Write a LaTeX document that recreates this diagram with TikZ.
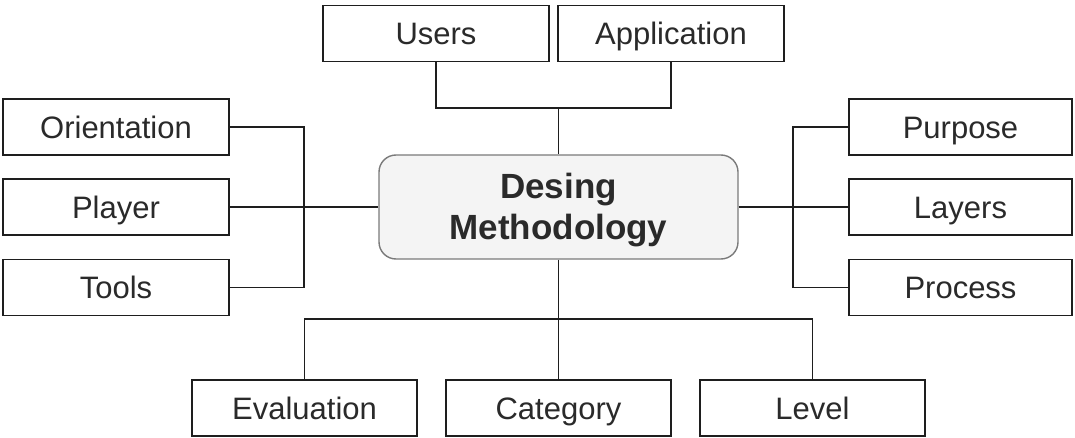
\documentclass[tikz,border=0pt]{standalone}
\usepackage{fontspec}
\setmainfont{Liberation Sans}
\definecolor{linec}{HTML}{1E1E1E}
\definecolor{txt}{HTML}{2A2A2A}
\definecolor{cfill}{HTML}{F4F4F4}
\definecolor{cdraw}{HTML}{7A7A7A}
\begin{document}
\begin{tikzpicture}[x=1pt,y=-1pt,
  box/.style={draw=linec,line width=1.8pt,fill=white,minimum height=56pt,inner sep=0pt,
    text height=22.2pt,text depth=0pt,
    text=txt,font=\fontsize{31}{37}\selectfont},
  core/.style={draw=cdraw,line width=1.4pt,fill=cfill,rounded corners=17pt,
    minimum width=359pt,minimum height=104pt,inner sep=0pt},
  coretext/.style={text=txt,font=\fontsize{35}{41}\selectfont\bfseries,align=center,inner sep=0pt},
  link/.style={draw=linec,line width=1.8pt}]
\useasboundingbox (0,0) rectangle (1075,438);
% nodes
\node[core] (center) at (558.5,207) {};
\node[coretext] (ctext) at (558.5,210) {Desing\\Methodology};
\node[box,minimum width=226pt] (users) at (436,33.5) {Users};
\node[box,minimum width=226pt] (app) at (671,33.5) {Application};
\node[box,minimum width=226pt] (orient) at (116,127) {Orientation};
\node[box,minimum width=226pt] (player) at (116,207) {Player};
\node[box,minimum width=226pt] (tools) at (116,287.5) {Tools};
\node[box,minimum width=223pt] (purpose) at (960.5,127) {Purpose};
\node[box,minimum width=223pt] (layers) at (960.5,207) {Layers};
\node[box,minimum width=223pt] (process) at (960.5,287.5) {Process};
\node[box,minimum width=225pt] (eval) at (304.5,408) {Evaluation};
\node[box,minimum width=225pt] (cat) at (558.5,408) {Category};
\node[box,minimum width=225pt] (level) at (812.5,408) {Level};
% junctions
\coordinate (tj) at (558.5,108);
\coordinate (lj) at (304,207);
\coordinate (rj) at (793,207);
\coordinate (bj) at (558.5,319);
% connectors
\draw[link] (users.south) |- (tj) -| (app.south);
\draw[link] (tj) -- (center.north);
\draw[link] (orient.east) -| (lj) |- (tools.east);
\draw[link] (player.east) -- (center.west);
\draw[link] (purpose.west) -| (rj) |- (process.west);
\draw[link] (center.east) -- (layers.west);
\draw[link] (center.south) -- (bj);
\draw[link] (eval.north) |- (bj) -| (level.north);
\draw[link] (bj) -- (cat.north);
\end{tikzpicture}
\end{document}
